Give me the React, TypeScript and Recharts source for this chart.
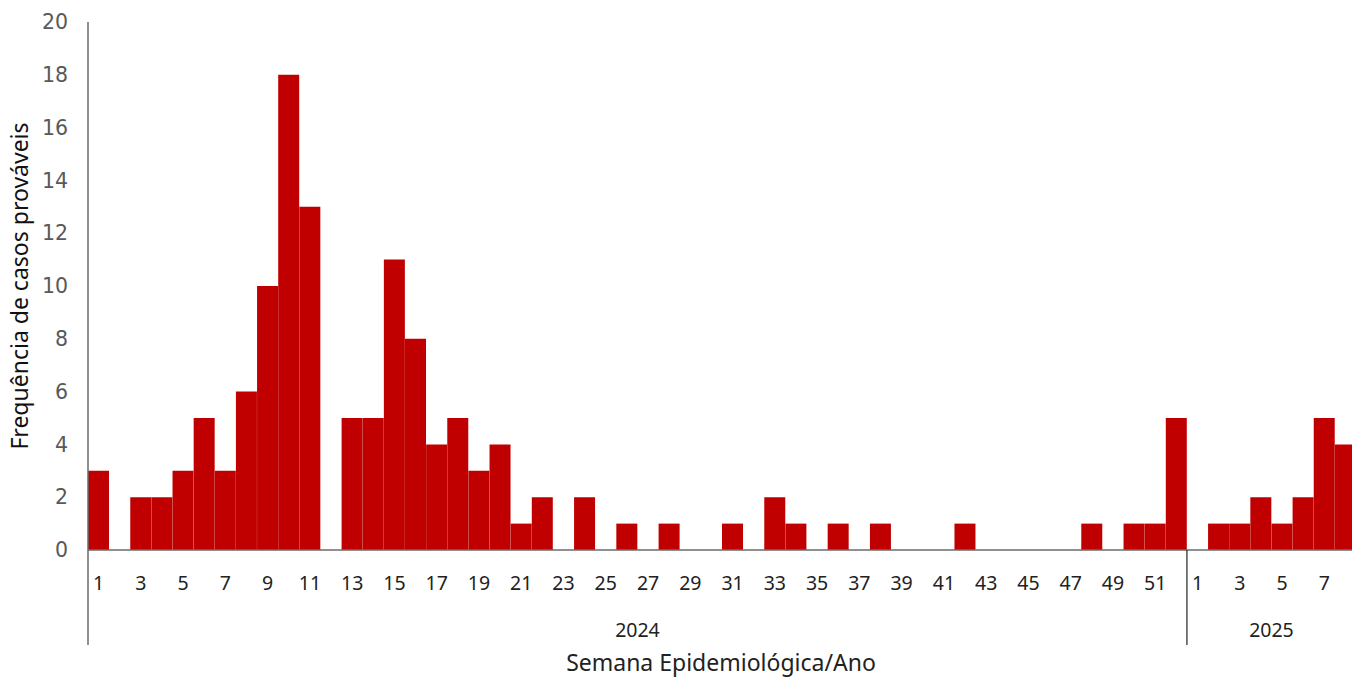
import { BarChart, Bar, XAxis, YAxis } from "recharts";

// semanas epidemiológicas 2024 (1..52) e 2025 (1..8)
const cases2024 = [
  3, 0, 2, 2, 3, 5, 3, 6, 10, 18, 13, 0, 5, 5, 11, 8, 4, 5, 3, 4,
  1, 2, 0, 2, 0, 1, 0, 1, 0, 0, 1, 0, 2, 1, 0, 1, 0, 1, 0, 0,
  0, 1, 0, 0, 0, 0, 0, 1, 0, 1, 1, 5,
];
const cases2025 = [0, 1, 1, 2, 1, 2, 5, 4];
const years = ["2024", "2025"];
const yTicks = [0, 2, 4, 6, 8, 10, 12, 14, 16, 18, 20];

const data = [
  ...cases2024.map((v, i) => ({ key: `2024-${i + 1}`, year: years[0], week: i + 1, cases: v })),
  ...cases2025.map((v, i) => ({ key: `2025-${i + 1}`, year: years[1], week: i + 1, cases: v })),
];

// the plot runs a few pixels past the right edge, so the last bar is clipped like in the original
const VIEW_W = 1352;
const WIDTH = 1356;
const HEIGHT = 678;
const LEFT = 88;
const BAND = (WIDTH - LEFT) / data.length;
const FONT = "'Noto Sans', 'Open Sans', sans-serif";
const AXIS = "#6b6b6b";

function WeekTick(props: any) {
  const { x, y, payload } = props;
  const i = props.index ?? payload.index;
  const d = data[i];
  if (!d) return null;
  const items = [];
  if (d.week % 2 === 1) {
    items.push(
      <text key="w" x={x} y={y + 40} textAnchor="middle" fontSize={19.5} fill="#222" fontFamily={FONT}>
        {d.week}
      </text>
    );
  }
  if (d.week === 1) {
    items.push(<line key="s" x1={x - BAND / 2} x2={x - BAND / 2} y1={y} y2={y + 95} stroke={i === 0 ? AXIS : "#222"} strokeWidth={i === 0 ? 1.5 : 1.2} />);
  }
  const n = d.year === years[0] ? cases2024.length : cases2025.length;
  if (d.week === n / 2 + 1) {
    items.push(
      <text key="y" x={x - BAND / 2} y={y + 87} textAnchor="middle" fontSize={19.5} fill="#222" fontFamily={FONT}>
        {d.year}
      </text>
    );
  }
  return <g>{items}</g>;
}

export default function App() {
  return (
    <div style={{ position: "absolute", left: 0, top: 0, width: VIEW_W, height: HEIGHT, overflow: "hidden", background: "#fff" }}>
      <BarChart
        width={WIDTH}
        height={HEIGHT}
        data={data}
        margin={{ top: 22, right: 0, bottom: 0, left: 0 }}
        barCategoryGap={0}
        barGap={0}
      >
        <XAxis
          dataKey="key"
          height={128}
          interval={0}
          tickSize={0}
          tickMargin={0}
          tickLine={false}
          axisLine={{ stroke: AXIS, strokeWidth: 1.5 }}
          tick={<WeekTick />}
          label={{
            value: "Semana Epidemiológica/Ano",
            position: "insideBottom",
            offset: 7,
            dx: -1,
            style: { fontSize: 23, fill: "#222", fontFamily: FONT },
          }}
        />
        <YAxis
          width={LEFT}
          domain={[0, 20]}
          ticks={yTicks}
          interval={0}
          tickLine={false}
          tickMargin={14}
          axisLine={{ stroke: AXIS, strokeWidth: 1.5 }}
          tick={{ fontSize: 20.5, fill: "#595959", fontFamily: "'DejaVu Sans', sans-serif" }}
          label={{
            value: "Frequência de casos prováveis",
            angle: -90,
            position: "insideLeft",
            offset: 20,
            style: { fontSize: 23, fill: "#111", fontFamily: FONT, textAnchor: "middle" },
          }}
        />
        <Bar dataKey="cases" fill="#C00000" isAnimationActive={false} />
      </BarChart>
    </div>
  );
}
